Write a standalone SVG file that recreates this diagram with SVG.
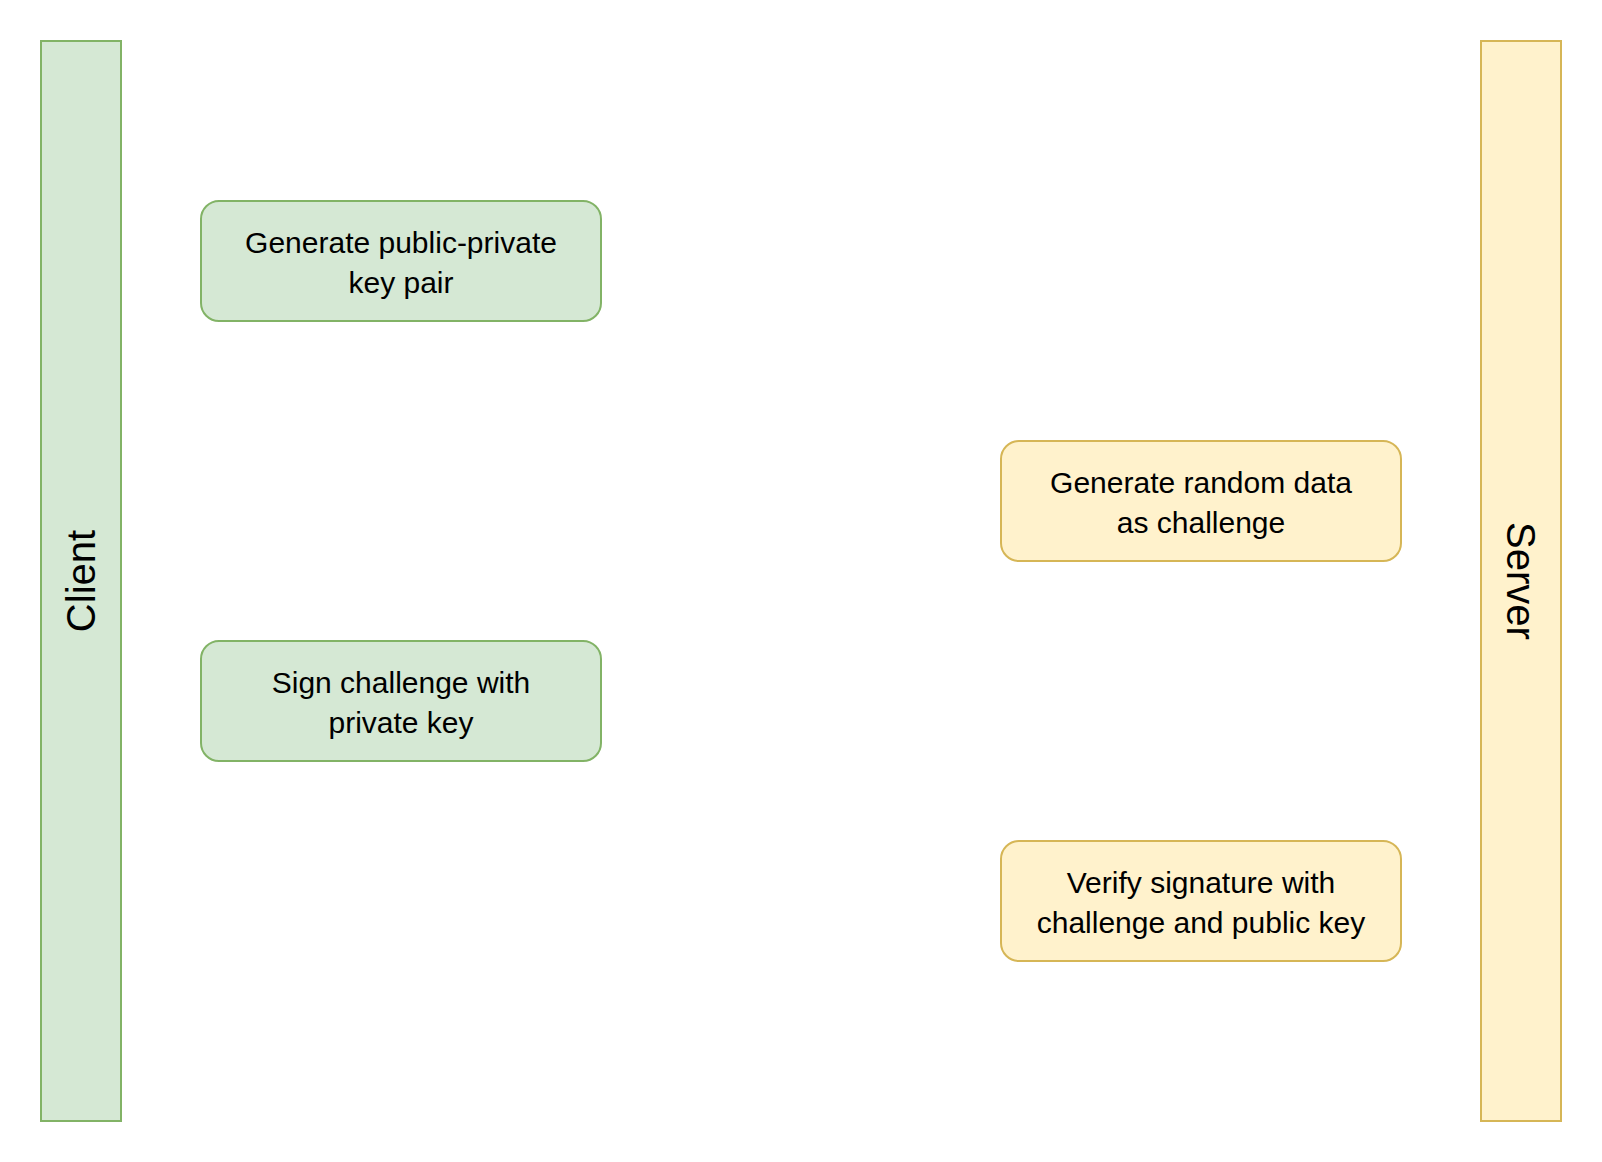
<svg xmlns="http://www.w3.org/2000/svg" width="1602" height="1162" viewBox="0 0 1602 1162">
<style>
text{font-family:"Comic Sans MS","Liberation Sans",sans-serif;fill:#000;text-anchor:middle}
.g{fill:#d5e8d4;stroke:#82b366;stroke-width:2}
.y{fill:#fff2cc;stroke:#d6b656;stroke-width:2}
.t{font-size:30px}
.l{font-size:40px}
</style>
<rect width="1602" height="1162" fill="#fff"/>
<g id="client"><rect class="g" x="41" y="41" width="80" height="1080"/><text class="l" transform="translate(95,581) rotate(-90)">Client</text></g>
<g id="server"><rect class="y" x="1481" y="41" width="80" height="1080"/><text class="l" transform="translate(1507,581) rotate(90)">Server</text></g>
<g id="gen-key"><rect class="g" x="201" y="201" width="400" height="120" rx="18"/><text class="t" x="401" y="253">Generate public-private</text><text class="t" x="401" y="293">key pair</text></g>
<g id="challenge"><rect class="y" x="1001" y="441" width="400" height="120" rx="18"/><text class="t" x="1201" y="493">Generate random data</text><text class="t" x="1201" y="533">as challenge</text></g>
<g id="sign"><rect class="g" x="201" y="641" width="400" height="120" rx="18"/><text class="t" x="401" y="693">Sign challenge with</text><text class="t" x="401" y="733">private key</text></g>
<g id="verify"><rect class="y" x="1001" y="841" width="400" height="120" rx="18"/><text class="t" x="1201" y="893">Verify signature with</text><text class="t" x="1201" y="933">challenge and public key</text></g>
<g id="connectors"></g>
</svg>
